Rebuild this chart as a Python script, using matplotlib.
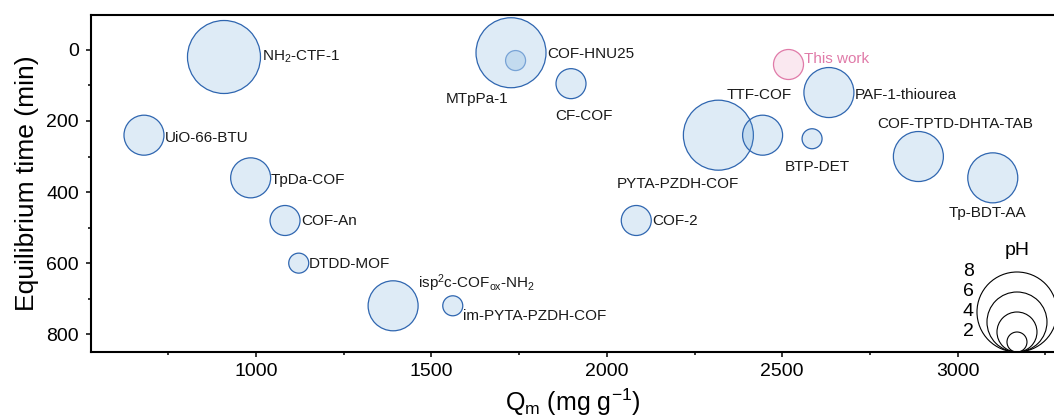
import matplotlib
matplotlib.use("Agg")
import matplotlib.pyplot as plt
import matplotlib.transforms as mtransforms
from matplotlib.ticker import MultipleLocator

plt.rcParams["font.family"] = ["Liberation Sans", "DejaVu Sans"]
plt.rcParams["mathtext.default"] = "regular"

# Adsorbents: capacity Qm (mg/g), equilibrium time (min), working pH
names = ["NH$_2$-CTF-1", "UiO-66-BTU", "TpDa-COF", "COF-An", "DTDD-MOF",
         "isp$^2$c-COF$_{ox}$-NH$_2$", "im-PYTA-PZDH-COF", "MTpPa-1",
         "COF-HNU25", "CF-COF", "COF-2", "PYTA-PZDH-COF", "TTF-COF",
         "BTP-DET", "PAF-1-thiourea", "COF-TPTD-DHTA-TAB", "Tp-BDT-AA"]
qm = [909, 681, 985, 1083, 1122, 1391, 1561, 1740, 1727, 1898, 2084,
      2318, 2444, 2585, 2633, 2888, 3100]
eq_time = [20, 240, 360, 480, 600, 720, 720, 30, 8, 95, 480, 240, 240,
           250, 120, 300, 360]
ph = [7.3, 4, 4, 3, 2, 5, 2, 2, 7, 3, 3, 7, 4, 2, 5, 5, 5]

# this study
work_name = "This work"
work_qm = [2517]
work_time = [40]
work_ph = [3]

legend_ph = [2, 4, 6, 8]

# label placement: (dx, dy) in pixels from bubble centre, horizontal alignment
label_pos = [((38, 0), "left"), ((21, -3), "left"), ((20, -2), "left"),
             ((16, -1), "left"), ((10, -1), "left"), ((25, 23), "left"),
             ((10, -10), "left"), ((-39, -38), "center"), ((36, -1), "left"),
             ((13, -32), "center"), ((16, -1), "left"), ((-41, -49), "center"),
             ((-3, 40), "center"), ((5, -28), "center"), ((26, -2), "left"),
             ((37, 33), "center"), ((-5, -35), "center")]

DPI = 100
PX_PER_PH = 10  # bubble diameter in pixels per pH unit


def bubble_size(p):
    d_pt = PX_PER_PH * p * 72.0 / DPI
    return d_pt ** 2


fig = plt.figure(figsize=(10.54, 4.19), dpi=DPI)
ax = fig.add_axes([91 / 1054, 1 - 352 / 419, 1 - 91 / 1054, (352 - 14.7) / 419])

blue_face = (0.357, 0.608, 0.835, 0.2)
blue_edge = "#2f66b0"
# the bubble sitting inside COF-HNU25 is seen through its fill
edges = ["#7fa5d6" if n == "MTpPa-1" else blue_edge for n in names]
ax.scatter(qm, eq_time, s=[bubble_size(p) for p in ph], facecolors=blue_face,
           edgecolors=edges, linewidths=0.9, zorder=3)

pink_face = (0.91, 0.55, 0.72, 0.2)
pink_edge = "#e07aa8"
ax.scatter(work_qm, work_time, s=[bubble_size(p) for p in work_ph],
           facecolors=pink_face, edgecolors=pink_edge, linewidths=0.9, zorder=3)

for name, x, y, ((dx, dy), ha) in zip(names, qm, eq_time, label_pos):
    ax.annotate(name, (x, y), xytext=(dx, dy), textcoords="offset pixels",
                ha=ha, va="center", fontsize=11, color="#1a1a1a", zorder=4)
ax.annotate(work_name, (work_qm[0], work_time[0]), xytext=(16, 5),
            textcoords="offset pixels", ha="left", va="center", fontsize=11,
            color=pink_edge, zorder=4)

ax.set_xlim(530, 3274.5)
ax.set_ylim(850, -99)

ax.xaxis.set_major_locator(MultipleLocator(500))
ax.xaxis.set_minor_locator(MultipleLocator(250))
ax.yaxis.set_major_locator(MultipleLocator(200))
ax.yaxis.set_minor_locator(MultipleLocator(100))
ax.xaxis.set_major_formatter(lambda v, pos: f"{int(v)}" if v >= 1000 else "")

ax.tick_params(which="major", length=3.6, width=1.1, labelsize=14, pad=4,
               direction="out")
ax.tick_params(which="minor", length=2.2, width=1.1, direction="out")
ax.tick_params(axis="y", which="major", pad=5)

for side in ("left", "bottom", "top"):
    ax.spines[side].set_linewidth(1.5)
ax.spines["right"].set_visible(False)

ax.set_ylabel("Equilibrium time (min)", fontsize=19, labelpad=5)
ax.set_xlabel("Q$_m$ (mg g$^{-1}$)", fontsize=18, labelpad=5)

# pH size key, circles resting on the bottom axis
key_x = 3169
base = mtransforms.blended_transform_factory(ax.transData, ax.transAxes)
for p in sorted(legend_ph, reverse=True):
    d_px = PX_PER_PH * p
    tr = mtransforms.offset_copy(base, fig=fig, y=d_px / 2, units="dots")
    ax.scatter([key_x], [0], s=bubble_size(p), facecolors="none",
               edgecolors="black", linewidths=0.8, transform=tr,
               clip_on=False, zorder=5)
    ax.annotate(str(p), (key_x, 0), xycoords=base, xytext=(-43, d_px + 1),
                textcoords="offset pixels", ha="right", va="center",
                fontsize=14, annotation_clip=False)
ax.annotate("pH", (key_x, 0), xycoords=base, xytext=(0, 102),
            textcoords="offset pixels", ha="center", va="center", fontsize=14,
            annotation_clip=False)

fig.savefig("out.png", dpi=DPI)
